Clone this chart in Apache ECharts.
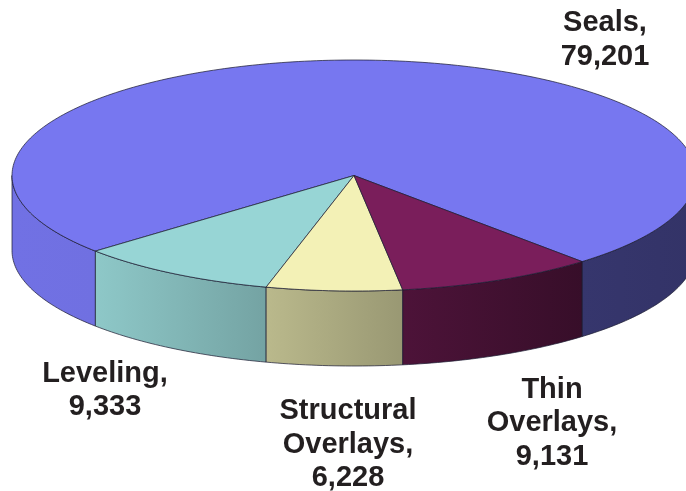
<!DOCTYPE html>
<html>
<head>
<meta charset="utf-8">
<style>html,body{margin:0;padding:0;background:#fff}#c{width:686px;height:491px}</style>
<script src="https://cdn.jsdelivr.net/npm/echarts@6/dist/echarts.min.js"></script>
</head>
<body>
<div id="c"></div>
<script>
const categories = ['Seals', 'Leveling', 'Structural Overlays', 'Thin Overlays'];
const values = [79201, 9333, 6228, 9131];
const colors = ['#7777F0', '#97D5D5', '#F3F1B6', '#7A1E5B'];
const labelCentres = [[605, 40], [105, 390.5], [348, 444.5], [552, 423]];

const pie = { cx: 354, cy: 175.5, rx: 342, ry: 115.5, depth: 75, start: 39.3, tilt: 1.07 };
const total = values.reduce((a, b) => a + b, 0);
const rad = d => d * Math.PI / 180;

// angle measured from the front of the pie, positive to the right; tilt widens the front
function view(t) {
  const turns = Math.round(t / 360);
  const r = t - turns * 360;
  return 2 * Math.atan(pie.tilt * Math.tan(rad(r) / 2)) * 180 / Math.PI + turns * 360;
}
const rim = (p, drop) => [
  pie.cx + pie.rx * Math.sin(rad(p)),
  pie.cy + pie.ry * Math.cos(rad(p)) + drop
];
function arc(a, b, drop) {
  const pts = [], n = Math.max(2, Math.ceil(Math.abs(b - a)));
  for (let i = 0; i <= n; i++) pts.push(rim(a + (b - a) * i / n, drop));
  return pts;
}
function shade(hex, f) {
  const n = parseInt(hex.slice(1), 16);
  return 'rgb(' + [n >> 16, (n >> 8) & 255, n & 255].map(c => Math.round(c * f)).join(',') + ')';
}
const light = p => Math.min(0.95, Math.max(0.43, 0.68 - 0.34 * Math.sin(rad(p))));
const edge = 'rgba(28,28,50,0.72)';

function renderSlice(params) {
  const i = params.dataIndex;
  const before = values.slice(0, i).reduce((a, b) => a + b, 0);
  const a = view(pie.start + before / total * 360);
  const b = view(pie.start + (before + values[i]) / total * 360);
  const children = [];
  // side walls: only the parts of the rim that face the viewer
  [[-90, 90], [270, 450]].forEach(([lo, hi]) => {
    const s = Math.max(a, lo), e = Math.min(b, hi);
    if (e <= s) return;
    const poly = arc(s, e, 0).concat(arc(e, s, pie.depth));
    const left = light(Math.sin(rad(s)) < Math.sin(rad(e)) ? s : e);
    const right = light(Math.sin(rad(s)) < Math.sin(rad(e)) ? e : s);
    children.push({
      type: 'polygon',
      shape: { points: poly },
      style: {
        fill: new echarts.graphic.LinearGradient(0, 0, 1, 0, [
          { offset: 0, color: shade(colors[i], left) },
          { offset: 1, color: shade(colors[i], right) }
        ]),
        stroke: edge, lineWidth: 1
      }
    });
  });
  // top face
  children.push({
    type: 'polygon',
    shape: { points: [[pie.cx, pie.cy]].concat(arc(a, b, 0)) },
    style: { fill: colors[i], stroke: edge, lineWidth: 1 }
  });
  // label
  const lines = categories[i].split(' ');
  lines[lines.length - 1] += ',';
  lines.push(values[i].toLocaleString('en-US'));
  children.push({
    type: 'text',
    x: labelCentres[i][0],
    y: labelCentres[i][1],
    z2: 10,
    style: {
      text: lines.join('\n'),
      fill: '#231F20',
      font: 'bold 29px "Liberation Sans", Arial, sans-serif',
      lineHeight: 33.5,
      align: 'center',
      verticalAlign: 'middle'
    }
  });
  return { type: 'group', children };
}

const chart = echarts.init(document.getElementById('c'), null, { renderer: 'canvas' });
chart.setOption({
  animation: false,
  backgroundColor: '#fff',
  series: [{
    type: 'custom',
    coordinateSystem: 'none',
    clip: false,
    silent: true,
    data: categories.map((name, i) => ({ name, value: values[i] })),
    renderItem: renderSlice
  }]
});
</script>
</body>
</html>
